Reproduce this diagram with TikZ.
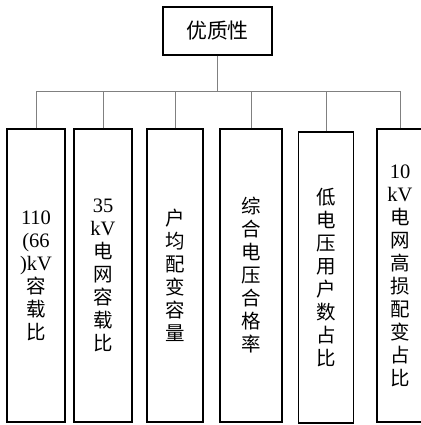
\documentclass[tikz,border=0pt]{standalone}
\usepackage{fontspec}
\setmainfont{Liberation Serif}
\newfontfamily\cjk{Noto Sans CJK SC}[Scale=0.95]
\tikzset{
  box/.style={draw=black, line width=1.2pt, fill=white, inner sep=0pt, align=center,
    font=\fontsize{20.5}{23}\selectfont},
  link/.style={draw=black!50, line width=0.7pt}
}
\begin{document}
\begin{tikzpicture}[x=1pt,y=1pt]
\useasboundingbox (0,0) rectangle (420,425);
\node[box, minimum width=109pt, minimum height=48pt, font=\fontsize{22}{24}\selectfont] (top) at (217.5,394) {\cjk 优质性};
\coordinate (bus) at (217.5,334);
\node[box, minimum width=58pt, minimum height=293pt] (b1) at (36,149.5) {110\\(66\\)kV\\\cjk 容\\\cjk 载\\\cjk 比};
\node[box, minimum width=58pt, minimum height=293pt] (b2) at (103,149.5) {35\\kV\\\cjk 电\\\cjk 网\\\cjk 容\\\cjk 载\\\cjk 比};
\node[box, minimum width=56pt, minimum height=293pt] (b3) at (175,149.5) {\cjk 户\\\cjk 均\\\cjk 配\\\cjk 变\\\cjk 容\\\cjk 量};
\node[box, minimum width=62pt, minimum height=293pt] (b4) at (251,149.5) {\cjk 综\\\cjk 合\\\cjk 电\\\cjk 压\\\cjk 合\\\cjk 格\\\cjk 率};
\node[box, minimum width=55pt, minimum height=291pt] (b5) at (326,147.5) {\cjk 低\\\cjk 电\\\cjk 压\\\cjk 用\\\cjk 户\\\cjk 数\\\cjk 占\\\cjk 比};
\node[box, minimum width=46pt, minimum height=293pt] (b6) at (400,149.5) {10\\kV\\\cjk 电\\\cjk 网\\\cjk 高\\\cjk 损\\\cjk 配\\\cjk 变\\\cjk 占\\\cjk 比};
\draw[link] (top.south) -- (bus);
\foreach \b in {b1,b2,b3,b4,b5,b6} { \draw[link] (\b.north) |- (bus); }
\end{tikzpicture}
\end{document}
